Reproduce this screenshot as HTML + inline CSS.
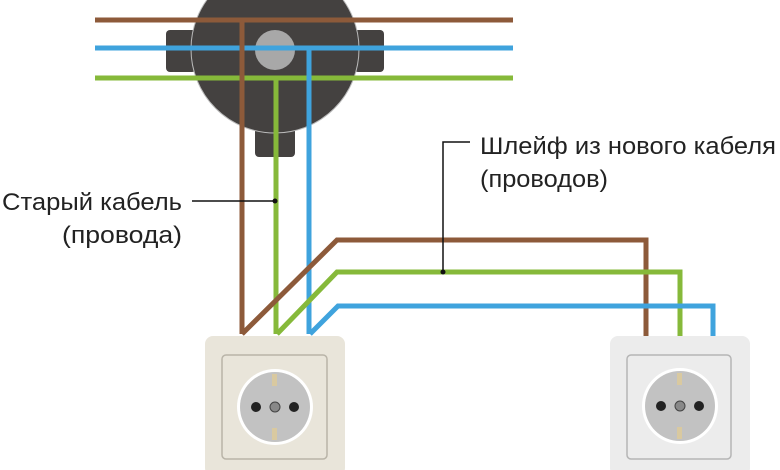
<!DOCTYPE html>
<html><head><meta charset="utf-8"><style>
html,body{margin:0;padding:0;background:#fff;}
svg{display:block;}
text{font-family:"Liberation Sans Narrow","Liberation Sans","DejaVu Sans Condensed",sans-serif;font-size:24px;fill:#222;}
</style></head><body>
<svg width="780" height="470" viewBox="0 0 780 470" xmlns="http://www.w3.org/2000/svg">
<!-- junction box -->
<rect x="255" y="125" width="40" height="32" rx="4" fill="#444140"/>
<rect x="166" y="30" width="30" height="42" rx="4" fill="#444140"/>
<rect x="354" y="30" width="30" height="42" rx="4" fill="#444140"/>
<circle cx="275" cy="49" r="84" fill="#444140" stroke="#bbb" stroke-width="1"/>
<circle cx="275" cy="50" r="20" fill="#a8a8a8"/>
<g fill="none" stroke-width="5" stroke-linejoin="miter">
<line x1="95" y1="20" x2="513" y2="20" stroke="#8d5a3a"/>
<line x1="95" y1="48" x2="513" y2="48" stroke="#3fa3dd"/>
<line x1="95" y1="78" x2="513" y2="78" stroke="#86b93a"/>
<polyline points="242,20 242,334" stroke="#8d5a3a"/>
<polyline points="276,78 276,334" stroke="#86b93a"/>
<polyline points="309,48 309,334" stroke="#3fa3dd"/>
<polyline points="242,334 337,240 646,240 646,338" stroke="#8d5a3a"/>
<polyline points="277,334 337,272 680,272 680,338" stroke="#86b93a"/>
<polyline points="310,334 338,306 713,306 713,338" stroke="#3fa3dd"/>
</g>
<!-- leaders -->
<line x1="192" y1="201" x2="275" y2="201" stroke="#111" stroke-width="1.5"/>
<circle cx="275" cy="201" r="2.5" fill="#111"/>
<polyline points="470,142 443,142 443,272" fill="none" stroke="#111" stroke-width="1.5"/>
<circle cx="443" cy="272" r="2.5" fill="#111"/>
<text x="480" y="154" textLength="296" lengthAdjust="spacingAndGlyphs">Шлейф из нового кабеля</text>
<text x="480" y="187" textLength="128" lengthAdjust="spacingAndGlyphs">(проводов)</text>
<text x="2" y="210" textLength="180" lengthAdjust="spacingAndGlyphs">Старый кабель</text>
<text x="62" y="243" textLength="120" lengthAdjust="spacingAndGlyphs">(провода)</text>
<!-- left socket -->
<rect x="205" y="336" width="140" height="140" rx="8" fill="#e9e5da"/>
<rect x="222" y="355" width="105" height="104" rx="4" fill="none" stroke="#b9b4a8" stroke-width="1.5"/>
<circle cx="275" cy="407" r="38" fill="#fff"/>
<circle cx="275" cy="407" r="35" fill="#c2c2c2"/>
<rect x="272" y="374" width="5" height="12" fill="#d9c9a0"/>
<rect x="272" y="428" width="5" height="12" fill="#d9c9a0"/>
<circle cx="256" cy="407" r="5" fill="#222"/>
<circle cx="294" cy="407" r="5" fill="#222"/>
<circle cx="275" cy="407" r="5" fill="#888" stroke="#444" stroke-width="1"/>
<!-- right socket -->
<rect x="610" y="336" width="140" height="140" rx="8" fill="#ececec"/>
<rect x="627" y="355" width="104" height="104" rx="4" fill="none" stroke="#b5b5b5" stroke-width="1.5"/>
<circle cx="680" cy="406" r="38" fill="#fff"/>
<circle cx="680" cy="406" r="35" fill="#c2c2c2"/>
<rect x="677" y="373" width="5" height="12" fill="#d9c9a0"/>
<rect x="677" y="427" width="5" height="12" fill="#d9c9a0"/>
<circle cx="661" cy="406" r="5" fill="#222"/>
<circle cx="699" cy="406" r="5" fill="#222"/>
<circle cx="680" cy="406" r="5" fill="#888" stroke="#444" stroke-width="1"/>
</svg>
</body></html>
